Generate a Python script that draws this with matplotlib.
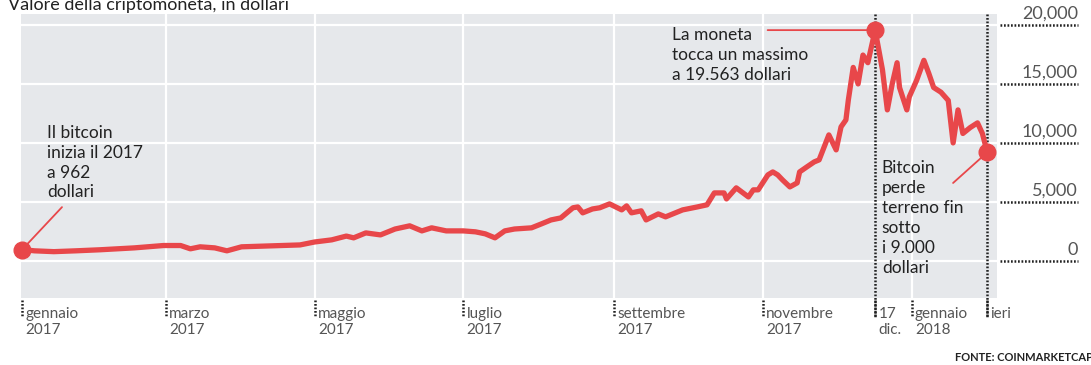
import pandas as pd
import matplotlib
matplotlib.use("Agg")
import matplotlib.pyplot as plt
import matplotlib.transforms as mtransforms

plt.rcParams['font.family'] = ['Lato', 'DejaVu Sans']

# valori (dollari)
date = ['2017-01-01', '2017-01-06', '2017-01-14', '2017-01-23', '2017-02-02', '2017-02-16',
        '2017-02-28', '2017-03-07', '2017-03-11', '2017-03-15', '2017-03-21', '2017-03-26',
        '2017-04-01', '2017-04-13', '2017-04-25', '2017-05-01', '2017-05-08', '2017-05-14',
        '2017-05-17', '2017-05-22', '2017-05-28', '2017-06-03', '2017-06-09', '2017-06-14',
        '2017-06-18', '2017-06-24', '2017-07-01', '2017-07-06', '2017-07-10', '2017-07-14',
        '2017-07-18', '2017-07-22', '2017-07-29', '2017-08-02', '2017-08-06', '2017-08-10',
        '2017-08-15', '2017-08-17', '2017-08-19', '2017-08-23', '2017-08-26', '2017-08-30',
        '2017-09-04', '2017-09-06', '2017-09-08', '2017-09-12', '2017-09-14', '2017-09-19',
        '2017-09-22', '2017-09-29', '2017-10-05', '2017-10-09', '2017-10-12', '2017-10-16',
        '2017-10-17', '2017-10-21', '2017-10-26', '2017-10-28', '2017-10-30', '2017-11-03',
        '2017-11-05', '2017-11-07', '2017-11-09', '2017-11-12', '2017-11-15', '2017-11-16',
        '2017-11-19', '2017-11-22', '2017-11-24', '2017-11-28', '2017-12-01', '2017-12-03',
        '2017-12-05', '2017-12-06', '2017-12-08', '2017-12-10', '2017-12-12', '2017-12-14',
        '2017-12-17', '2017-12-20', '2017-12-22', '2017-12-24', '2017-12-26', '2017-12-27',
        '2017-12-30', '2017-12-31', '2018-01-03', '2018-01-06', '2018-01-08', '2018-01-10',
        '2018-01-13', '2018-01-16', '2018-01-18', '2018-01-20', '2018-01-22', '2018-01-25',
        '2018-01-28', '2018-01-30', '2018-02-01']
valore = [962, 850, 780, 850, 940, 1100,
          1300, 1300, 1020, 1190, 1100, 850,
          1190, 1270, 1350, 1600, 1780, 2100,
          1950, 2370, 2200, 2700, 2970, 2540,
          2800, 2540, 2540, 2460, 2290, 1950,
          2540, 2700, 2800, 3130, 3470, 3640,
          4500, 4570, 4070, 4400, 4500, 4830,
          4320, 4660, 4070, 4240, 3470, 3980,
          3730, 4320, 4570, 4750, 5760, 5760,
          5250, 6190, 5420, 6020, 6020, 7290,
          7540, 7290, 6860, 6270, 6610, 7540,
          7970, 8390, 8560, 10680, 9410, 11360,
          11950, 13640, 16400, 15000, 17450, 16800,
          19563, 16200, 12800, 15000, 16800, 14700,
          12800, 13900, 15300, 17000, 15900, 14700,
          14300, 13600, 10000, 12800, 10800, 11300,
          11700, 10800, 9200]

tick_date = ['2017-01-01', '2017-03-01', '2017-05-01', '2017-07-01', '2017-09-01',
             '2017-11-01', '2017-12-17', '2018-01-01', '2018-02-01']
tick_label = ['gennaio\n2017', 'marzo\n2017', 'maggio\n2017', 'luglio\n2017',
              'settembre\n2017', 'novembre\n2017', '17\ndic.', 'gennaio\n2018', 'ieri']
griglia_v = ['2017-03-01', '2017-05-01', '2017-07-01', '2017-09-01', '2017-11-01', '2018-01-01']
y_tick = [0, 5000, 10000, 15000, 20000]
y_label = ['0', '5,000', '10,000', '15,000', '20,000']

rosso = '#e8474a'
grigio = '#e6e8eb'

x = pd.to_datetime(date)
tx = pd.to_datetime(tick_date)
gv = pd.to_datetime(griglia_v)

fig = plt.figure(figsize=(10.91, 3.65), dpi=100)
ax = fig.add_axes([21/1091, 1-298/365, 976/1091, 284/365])
ax.set_facecolor(grigio)
for s in ax.spines.values():
    s.set_visible(False)

ax.set_xlim(pd.Timestamp('2016-12-31 12:00'), pd.Timestamp('2018-02-05'))
ax.set_ylim(-3150, 20930)
ax.set_xticks([])
ax.set_yticks([])

# griglia bianca
for g in gv:
    ax.axvline(g, color='white', lw=1.6, zorder=1)
for v in y_tick:
    ax.axhline(v, color='white', lw=1.6, zorder=1)

trans = mtransforms.blended_transform_factory(ax.transData, ax.transAxes)

# linee verticali tratteggiate per il massimo e per ieri
for d in [tx[6], tx[8]]:
    ax.plot([d, d], [1.0, -0.068], transform=trans, color='#222222', lw=1.8,
            ls=(0, (0.7, 0.7)), clip_on=False, zorder=2)

# tacche dell'asse x e etichette
for d, lab in zip(tx, tick_label):
    ax.plot([d, d], [-0.007, -0.068], transform=trans, color='#222222', lw=1.8,
            ls=(0, (0.7, 0.7)), clip_on=False)
    ax.text(d + pd.Timedelta(days=1.3), -0.03, lab, transform=trans, ha='left', va='top',
            fontsize=11, color='#555555', linespacing=1.25)

# etichette asse y a destra con linee punteggiate
ytrans = mtransforms.blended_transform_factory(ax.transAxes, ax.transData)
for v, lab in zip(y_tick, y_label):
    ax.plot([1.003, 1.083], [v, v], transform=ytrans, color='#222222', lw=1.8,
            ls=(0, (0.7, 0.7)), clip_on=False)
    ax.text(1.083, v + 250, lab, transform=ytrans, ha='right', va='bottom',
            fontsize=13, color='#555555')

# serie
ax.plot(x, valore, color=rosso, lw=3.8, solid_joinstyle='round', zorder=4)
ax.plot([x[0], x[-1]], [valore[0], valore[-1]], 'o', color=rosso, ms=12, zorder=5, clip_on=False)
imax = valore.index(max(valore))
ax.plot(x[imax], valore[imax], 'o', color=rosso, ms=12, zorder=5)

# annotazioni
ax.annotate('', xy=(x[0], valore[0]), xytext=(0.042, 0.32), textcoords='axes fraction',
            arrowprops=dict(arrowstyle='-', color=rosso, lw=1.3, shrinkA=0, shrinkB=0))
ax.text(0.0266, 0.61, 'Il bitcoin\ninizia il 2017\na 962\ndollari', transform=ax.transAxes,
        ha='left', va='top', fontsize=12.5, color='#222222', linespacing=1.3)

ax.annotate('', xy=(x[imax], valore[imax]), xytext=(0.765, valore[imax]),
            textcoords=ytrans,
            arrowprops=dict(arrowstyle='-', color=rosso, lw=1.3, shrinkA=0, shrinkB=0))
ax.text(0.667, 0.955, 'La moneta\ntocca un massimo\na 19.563 dollari', transform=ax.transAxes,
        ha='left', va='top', fontsize=12.5, color='#222222', linespacing=1.3)

ax.annotate('', xy=(x[-1], valore[-1]), xytext=(0.955, 0.405), textcoords='axes fraction',
            arrowprops=dict(arrowstyle='-', color=rosso, lw=1.3, shrinkA=0, shrinkB=0))
ax.text(0.882, 0.485, 'Bitcoin\nperde\nterreno fin\nsotto\ni 9.000\ndollari', transform=ax.transAxes,
        ha='left', va='top', fontsize=12.5, color='#222222', linespacing=1.3)

fig.text(8/1091, 1-10/365, 'Valore della criptomoneta, in dollari', ha='left', va='baseline',
         fontsize=13, color='#222222')
fig.text(1093/1091, 1-361/365, 'FONTE: COINMARKETCAP', ha='right', va='baseline',
         fontsize=8, color='#222222', fontweight='bold')

fig.savefig('out.png', dpi=100)
